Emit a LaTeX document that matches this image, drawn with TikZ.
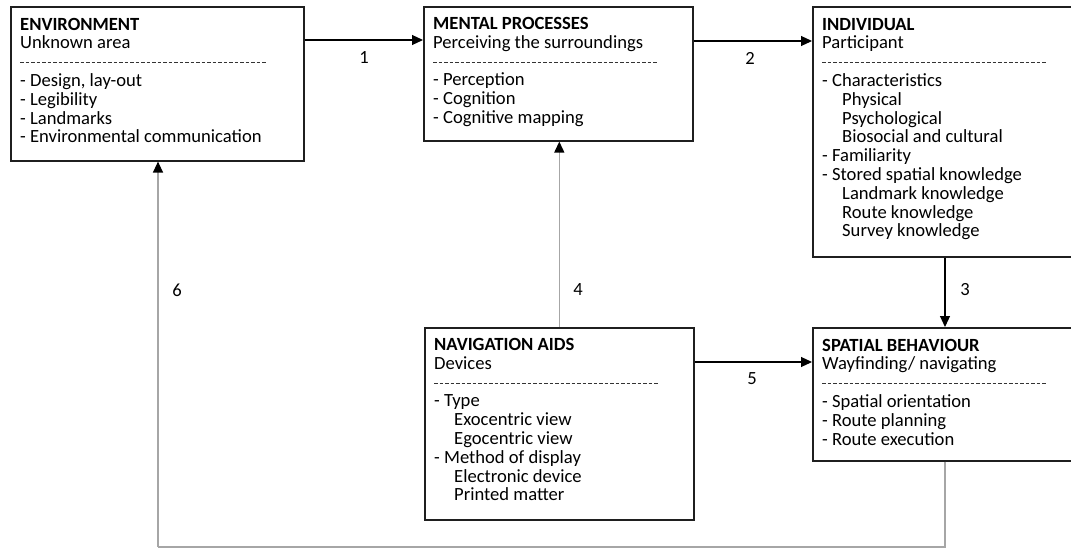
\documentclass[tikz,border=0pt]{standalone}
\usepackage{fontspec}
\setmainfont{Carlito}
\usetikzlibrary{arrows.meta,calc}
\tikzset{
  boxnode/.style={draw=black!88, line width=1.6pt, inner sep=0pt, anchor=north west},
  txt/.style={anchor=base west, inner sep=0pt, font=\fontsize{18.6}{18.8}\selectfont},
  lbl/.style={inner sep=0pt, font=\fontsize{18.6}{18.8}\selectfont},
  dashrule/.style={line width=0.7pt, dash pattern=on 3.6pt off 1.9pt, black!80},
  arr/.style={line width=1.1pt, black, -{Triangle[length=11pt,width=10pt]}},
  grayarr/.style={line width=1.4pt, black!35, -{Triangle[length=11pt,width=10pt,color=black]}},
  grayline/.style={line width=1.4pt, black!35},
}
\newcommand{\ind}{\hspace*{20pt}}
\newcommand{\btext}[1]{\parbox[t]{260pt}{\raggedright #1}}
\begin{document}
\begin{tikzpicture}[x=1pt,y=-1pt]
\useasboundingbox (0,0) rectangle (1071,549);
\clip (0,0) rectangle (1071,549);
% boxes
\node[boxnode, minimum width=293pt, minimum height=154pt] (env) at (10,6) {};
\node[boxnode, minimum width=269pt, minimum height=134pt] (mental) at (423,6) {};
\node[boxnode, minimum width=275pt, minimum height=250pt] (indiv) at (812,6) {};
\node[boxnode, minimum width=269pt, minimum height=192pt] (nav) at (424,327) {};
\node[boxnode, minimum width=275pt, minimum height=133pt] (spatial) at (812,327) {};
% texts
\node[txt] (envT) at ([xshift=10pt,yshift=-24pt]env.north west) {\btext{\textbf{ENVIRONMENT}\\Unknown area\\[18.8pt]
- Design, lay-out\\- Legibility\\- Landmarks\\- Environmental communication}};
\node[txt] (mentalT) at ([xshift=10pt,yshift=-23.5pt]mental.north west) {\btext{\textbf{MENTAL PROCESSES}\\Perceiving the surroundings\\[18.8pt]
- Perception\\- Cognition\\- Cognitive mapping}};
\node[txt] (indivT) at ([xshift=10pt,yshift=-24pt]indiv.north west) {\btext{\textbf{INDIVIDUAL}\\Participant\\[18.8pt]
- Characteristics\\\ind Physical\\\ind Psychological\\\ind Biosocial and cultural\\- Familiarity\\- Stored spatial knowledge\\\ind Landmark knowledge\\\ind Route knowledge\\\ind Survey knowledge}};
\node[txt] (navT) at ([xshift=10pt,yshift=-23.5pt]nav.north west) {\btext{\textbf{NAVIGATION AIDS}\\Devices\\[18.8pt]
- Type\\\ind Exocentric view\\\ind Egocentric view\\- Method of display\\\ind Electronic device\\\ind Printed matter}};
\node[txt] (spatialT) at ([xshift=10pt,yshift=-24pt]spatial.north west) {\btext{\textbf{SPATIAL BEHAVIOUR}\\Wayfinding/ navigating\\[18.8pt]
- Spatial orientation\\- Route planning\\- Route execution}};
% dashed rules
\draw[dashrule] ([xshift=10pt,yshift=-56pt]env.north west) -- ++(246,0);
\draw[dashrule] ([xshift=10pt,yshift=-56pt]mental.north west) -- ++(224,0);
\draw[dashrule] ([xshift=10pt,yshift=-56pt]indiv.north west) -- ++(224,0);
\draw[dashrule] ([xshift=10pt,yshift=-56pt]nav.north west) -- ++(224,0);
\draw[dashrule] ([xshift=10pt,yshift=-56pt]spatial.north west) -- ++(224,0);
% connectors
\coordinate (s1) at ([yshift=-34pt]env.north east);
\draw[arr] (s1) -- (s1 -| mental.west);
\coordinate (s2) at ([yshift=-35pt]mental.north east);
\draw[arr] (s2) -- (s2 -| indiv.west);
\coordinate (s3) at ([xshift=133pt]indiv.south west);
\draw[arr] (s3) -- (s3 |- spatial.north);
\draw[grayarr] (nav.north) -- (nav.north |- mental.south);
\coordinate (s5) at ([yshift=-35pt]nav.north east);
\draw[arr] (s5) -- (s5 -| spatial.west);
\coordinate (s6) at ([xshift=133pt]spatial.south west);
\coordinate (b6) at (158,547);
\draw[grayline] (s6) |- (b6);
\draw[grayarr] (b6) -- (b6 |- env.south);
% labels
\node[lbl] (l1) at (364,58) {1};
\node[lbl] (l2) at (750,58) {2};
\node[lbl] (l3) at (965,290) {3};
\node[lbl] (l4) at (578,290) {4};
\node[lbl] (l5) at (752,379) {5};
\node[lbl] (l6) at (177,290) {6};
\end{tikzpicture}
\end{document}
